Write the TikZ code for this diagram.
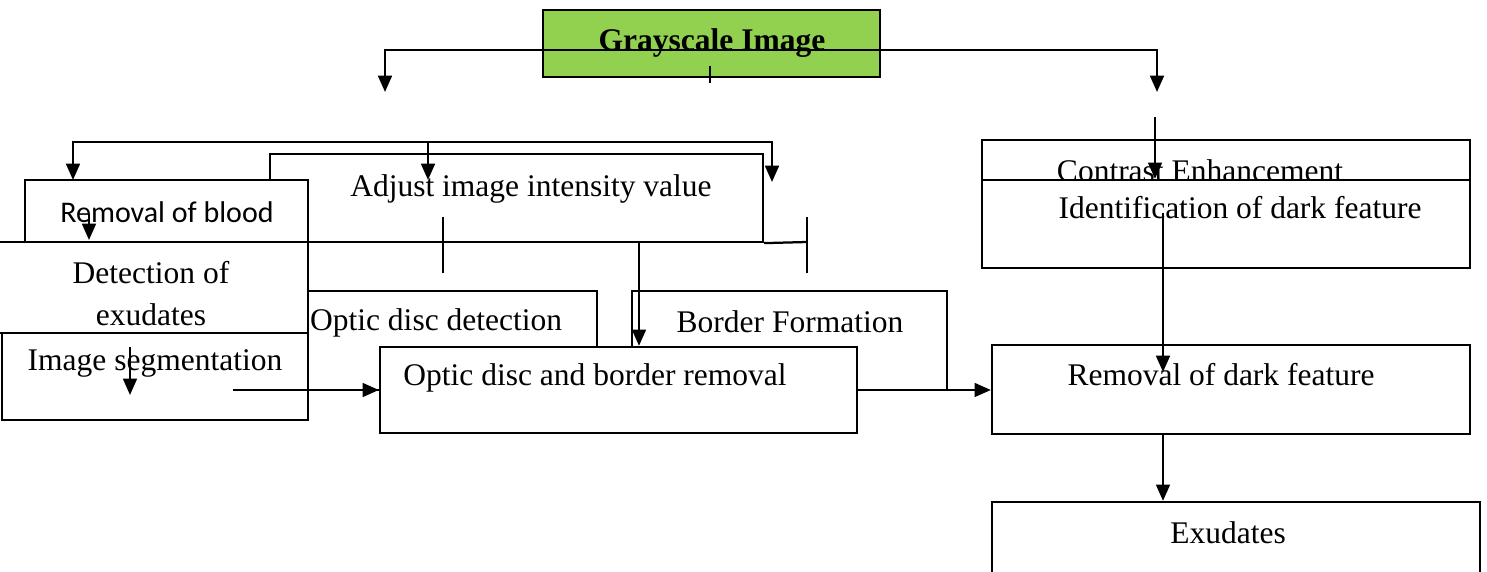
\documentclass[tikz,border=0pt]{standalone}
\usepackage{fontspec}
\setmainfont{Liberation Serif}
\newfontfamily\calibrifont{Carlito}
\usepackage{xcolor}
\usetikzlibrary{arrows.meta}
\usetikzlibrary{calc}
\usetikzlibrary{fit}
\definecolor{grassgreen}{HTML}{92D050}

\begin{document}
\begin{tikzpicture}[x=0.4pt,y=-0.4pt,->,>={Triangle[length=6.5pt,width=5.5pt]},
	line width=0.9pt,
	box/.style={-, draw=black, fill=white, rectangle, inner sep=0pt},
	txt/.style={inner sep=0pt, font=\fontsize{12.6}{15}\selectfont},
	plain/.style={-}]

\useasboundingbox (0,0) rectangle (1487,572);
\clip (0,0) rectangle (1487,572);

% Define the height of the small ticks.
\def\tickh{28}

% Top box
\node[box, fill=grassgreen, fit={(543,10) (880,77)}] (gray) {};
\node[txt, font=\fontsize{12.6}{15}\selectfont\bfseries] (grayt) at (712,43) {Grayscale Image};

\coordinate (gl) at (385,92);
\coordinate (gr) at (1157,92);
\path[draw, <->] (gl) -- ++(0,-42) -| (gr);
\coordinate (gt) at (710,66);
\path[draw, plain] (gt) -- ++(0,17);

% Left branch
\node[box, fit={(270,154) (763,242)}] (adj) {};
\node[txt] (adjt) at (531,189) {Adjust image intensity value};

\node[box, fit={(25,180) (308,242)}] (rob) {};
\node[txt, font=\calibrifont\fontsize{12}{14}\selectfont] (robt) at (167,212) {Removal of blood};

\node[box, fit={(290,291) (597,390)}] (odd) {};
\node[txt, anchor=west] (oddt) at (309,323) {Optic disc detection};

\node[box, fit={(-3,242) (308,333)}] (det) {};
\node[txt, align=center, font=\fontsize{12.6}{16.8}\selectfont] (dett) at (151,294) {Detection of\\exudates};

\node[box, fit={(2,333) (308,420)}] (seg) {};
\node[txt] (segt) at (155,363) {Image segmentation};

\node[box, fit={(632,291) (947,390)}] (bf) {};
\node[txt] (bft) at (790,322) {Border Formation};

\node[box, fit={(380,347) (857,433)}] (odbr) {};
\node[txt] (odbrt) at (595,378) {Optic disc and border removal};

\coordinate (t1) at (73,180);
\coordinate (t2) at (428,142);
\coordinate (t3) at (772,182);
\path[draw, <->] (t1) |- (t2) -| (t3);
\path[draw] (t2) -- ++(0,38);

\coordinate (r1) at (89,214);
\path[draw] (r1) -- ++(0,26);
\coordinate (s1) at (130,347);
\path[draw] (s1) -- ++(0,48);

\coordinate (ab) at (807,242);
\path[draw, plain] (adj.south east) -- (ab);
\path[draw, plain] ($(ab)+(0,-25)$) -- ++(0,56);
\coordinate (at) at (443,217);
\path[draw, plain] (at) -- ++(0,56);
\coordinate (am) at (639,242);
\path[draw] (am) -- (am |- odbr.north);

\coordinate (s2) at (233,390);
\path[draw] (s2) -- (s2 -| odbr.west);

% Right branch
\node[box, fit={(982,140) (1470,228)}] (ce) {};
\node[txt] (cet) at (1200,171) {Contrast Enhancement};

\node[box, fit={(982,180) (1470,268)}] (idf) {};
\node[txt] (idft) at (1240,208) {Identification of dark feature};

\node[box, fit={(992,345) (1470,434)}] (rdf) {};
\node[txt] (rdft) at (1221,375) {Removal of dark feature};

\node[box, fit={(992,502) (1480,600)}] (exu) {};
\node[txt] (exut) at (1228,533) {Exudates};

\coordinate (c1) at (1155,117);
\path[draw] (c1) -- (c1 |- idf.north);
\coordinate (i1) at (1163,213);
\path[draw] (i1) -- ++(0,159);
\path[draw] (rdf.south -| i1) -- (exu.north -| i1);

\path[draw] (odbr.east) -- (odbr.east -| rdf.west);

\end{tikzpicture}
\end{document}
